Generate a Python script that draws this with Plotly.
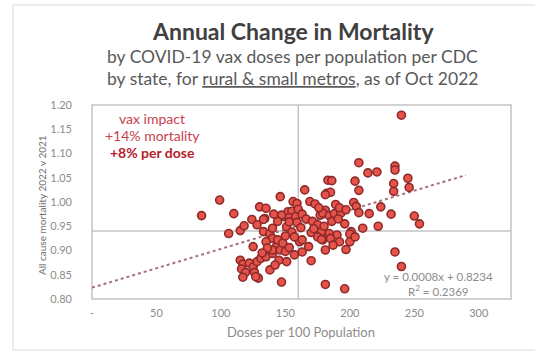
import plotly.graph_objects as go

# Vaccine doses per 100 population (x) and 2022/2021 all-cause mortality ratio (y)
doses = [
    85, 99, 110, 106, 115, 118, 124, 125, 115, 117, 116, 119, 117, 122, 125, 128, 126, 129,
    131, 135, 140, 145, 138, 147, 127, 133, 138, 140, 135, 130, 135, 134, 143, 140, 146, 148,
    151, 152, 140, 144, 146, 165, 156, 159, 169, 155, 153, 158, 153, 159, 147, 133, 173, 182,
    183, 177, 181, 148, 157, 150, 161, 163, 168, 170, 170, 178, 175, 179, 240, 207, 214, 221,
    235, 235, 245, 186, 204, 234, 246, 207, 234, 185, 181, 189, 203, 205, 224, 179, 184, 188,
    193, 207, 215, 232, 250, 254, 222, 210, 201, 200, 190, 184, 178, 185, 200, 181, 197, 235,
    240, 181, 196, 204, 192, 187, 160, 163, 166, 162, 171, 175, 180, 186, 191, 196, 172, 155,
    150, 157, 192, 197, 176, 144, 141, 128, 153, 136, 132, 142, 151, 163,
]
mortality = [
    0.972, 1.004, 0.976, 0.935, 0.941, 0.951, 0.964, 0.908, 0.880, 0.872, 0.862, 0.855, 0.845,
    0.874, 0.866, 0.877, 0.855, 0.843, 0.884, 0.887, 0.894, 0.880, 0.860, 0.835, 0.846, 0.939,
    0.935, 0.925, 0.918, 0.990, 0.987, 0.966, 0.908, 0.901, 0.901, 0.970, 0.949, 0.980, 0.946,
    0.922, 1.011, 1.025, 1.001, 0.997, 1.001, 0.981, 0.968, 0.970, 0.959, 0.958, 0.973, 0.964,
    0.996, 1.018, 1.045, 0.973, 0.983, 0.915, 0.891, 0.898, 0.918, 0.922, 0.908, 0.879, 0.937,
    0.939, 0.928, 0.922, 1.179, 1.081, 1.060, 1.062, 1.074, 1.066, 1.049, 1.044, 1.043, 1.038,
    1.030, 1.024, 1.022, 1.020, 1.015, 0.995, 0.999, 0.991, 0.990, 0.977, 0.972, 0.976, 0.977,
    0.978, 0.976, 0.975, 0.971, 0.955, 0.950, 0.946, 0.939, 0.934, 0.932, 0.935, 0.923, 0.925,
    0.918, 0.901, 0.902, 0.897, 0.867, 0.830, 0.821, 0.928, 0.918, 0.911, 0.985, 0.975, 0.965,
    0.947, 0.960, 0.953, 0.950, 0.960, 0.965, 0.955, 0.945, 0.938, 0.930, 0.928, 0.988, 0.984,
    0.988, 0.960, 0.975, 0.953, 0.906, 0.905, 0.895, 0.870, 0.877, 0.897,
]

# Linear fit shown on the chart
fit_slope = 0.0008
fit_intercept = 0.8234
fit_r2 = 0.2369
fit_x_range = [0, 290]

# Reference cross-hairs (median doses / median mortality ratio)
ref_doses = 160
ref_mortality = 0.94

x_ticks = [0, 50, 100, 150, 200, 250, 300]
x_tick_text = ["-", "50", "100", "150", "200", "250", "300"]
y_ticks = [0.80, 0.85, 0.90, 0.95, 1.00, 1.05, 1.10, 1.15, 1.20]

FONT = "Lato"
GRAY_TEXT = "#8c8c8c"
LINE_GRAY = "#c4c4c4"

fig = go.Figure()

# Trendline
fit_y = [fit_slope * x + fit_intercept for x in fit_x_range]
fig.add_trace(go.Scatter(
    x=fit_x_range, y=fit_y, mode="lines",
    line=dict(color="#a8707c", width=2, dash="dot"),
    hoverinfo="skip",
))

# State points
fig.add_trace(go.Scatter(
    x=doses, y=mortality, mode="markers",
    marker=dict(size=8, color="#e5534b", line=dict(color="#8e2a2a", width=1.6)),
))

# Cross-hair lines
fig.add_shape(type="line", xref="x", yref="paper", x0=ref_doses, x1=ref_doses, y0=0, y1=1,
              line=dict(color=LINE_GRAY, width=1.5), layer="below")
fig.add_shape(type="line", xref="paper", yref="y", x0=0, x1=1, y0=ref_mortality, y1=ref_mortality,
              line=dict(color=LINE_GRAY, width=1.5), layer="below")

# Outer frame
fig.add_shape(type="rect", xref="paper", yref="paper",
              x0=-79 / 419, x1=530 / 419, y0=(299 - 350) / 194, y1=(299 - 5) / 194,
              line=dict(color="#e6e6e6", width=1.5), layer="below")

# Plot-area box
fig.add_shape(type="rect", xref="paper", yref="paper", x0=0, x1=1, y0=0, y1=1,
              line=dict(color=LINE_GRAY, width=1.5), layer="below")

fig.update_xaxes(
    range=[0, 325], tickvals=x_ticks, ticktext=x_tick_text, showgrid=False, zeroline=False,
    showline=False, ticks="", tickfont=dict(family=FONT, size=11, color=GRAY_TEXT),
    ticklabelstandoff=6,
)
fig.update_yaxes(
    range=[0.80, 1.20], tickvals=y_ticks, tickformat=".2f", showgrid=False, zeroline=False,
    showline=False, ticks="", tickfont=dict(family=FONT, size=11, color=GRAY_TEXT),
    ticklabelstandoff=19,
)


def px_x(px):
    return (px - 92) / 419


def px_y(py):
    return (299 - py) / 194


annotations = [
    dict(text="<b>Annual Change in Mortality</b>", x=px_x(293), y=px_y(31),
         font=dict(family=FONT, size=23, color="#404040")),
    dict(text="by COVID-19 vax doses per population per CDC", x=px_x(292), y=px_y(56),
         font=dict(family=FONT, size=17.5, color="#595959")),
    dict(text="by state, for <span style='text-decoration:underline'>rural &amp; small metros</span>, as of Oct 2022",
         x=px_x(292), y=px_y(78), font=dict(family=FONT, size=17.5, color="#595959")),
    dict(text="vax impact", x=px_x(152), y=px_y(118),
         font=dict(family=FONT, size=14, color="#c8414f")),
    dict(text="+14% mortality", x=px_x(152), y=px_y(135),
         font=dict(family=FONT, size=14, color="#c8414f")),
    dict(text="<b>+8% per dose</b>", x=px_x(152), y=px_y(152),
         font=dict(family=FONT, size=14, color="#b8202c")),
    dict(text=f"y = {fit_slope}x + {fit_intercept}", x=px_x(438), y=px_y(276),
         font=dict(family=FONT, size=11.5, color=GRAY_TEXT)),
    dict(text=f"R<sup>2</sup> = {fit_r2}", x=px_x(438), y=px_y(290),
         font=dict(family=FONT, size=11.5, color=GRAY_TEXT)),
    dict(text="Doses per 100 Population", x=px_x(301), y=px_y(332),
         font=dict(family=FONT, size=13, color=GRAY_TEXT)),
    dict(text="All cause mortality 2022 v 2021", x=px_x(42), y=px_y(205), textangle=-90,
         font=dict(family=FONT, size=10, color="#6e6e6e")),
]
for a in annotations:
    a.update(xref="paper", yref="paper", showarrow=False, xanchor="center", yanchor="middle")

fig.update_layout(
    width=535, height=355,
    margin=dict(l=92, r=24, t=105, b=56),
    plot_bgcolor="white", paper_bgcolor="white",
    showlegend=False,
    annotations=annotations,
)

fig.write_html("out.html")
